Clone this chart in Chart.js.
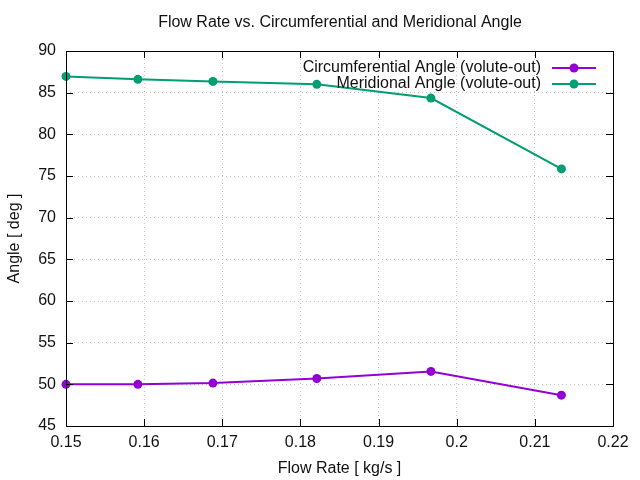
<!doctype html>
<html>
  <head>
    <meta charset="utf-8" />
    <title>Flow Rate vs. Angle</title>
    <script src="https://cdn.jsdelivr.net/npm/chart.js@4/dist/chart.umd.min.js"></script>
    <style>
      body { margin: 0; background: #fff; }
      #chart { display: block; }
    </style>
  </head>
  <body>
    <canvas id="chart" width="640" height="480"></canvas>
    <script>
      // values
      const flowRate = [0.15, 0.1592, 0.1688, 0.1821, 0.1967, 0.2134];
      const circAngle = [50.0, 50.0, 50.15, 50.7, 51.55, 48.7];
      const meridAngle = [86.95, 86.6, 86.35, 86.0, 84.35, 75.85];
      const seriesNames = ["Circumferential Angle (volute-out)", "Meridional Angle (volute-out)"];
      const seriesColors = ["#9400d3", "#009e73"];

      Chart.defaults.font.family = "Liberation Sans";
      Chart.defaults.font.size = 16;
      Chart.defaults.color = "#111";

      function puntos(ys) {
        return flowRate.map((x, i) => ({ x: x, y: ys[i] }));
      }

      // gnuplot style: title, inward ticks on all four sides, legend with sample on the right
      const extras = {
        id: "extras",
        afterDraw(chart) {
          const ctx = chart.ctx;
          const a = chart.chartArea;
          const sx = chart.scales.x, sy = chart.scales.y;
          ctx.save();
          ctx.strokeStyle = "#000";
          ctx.lineWidth = 1;
          ctx.beginPath();
          sx.ticks.forEach((t) => {
            const px = Math.round(sx.getPixelForValue(t.value)) + 0.5;
            ctx.moveTo(px, a.bottom); ctx.lineTo(px, a.bottom - 7);
            ctx.moveTo(px, a.top); ctx.lineTo(px, a.top + 7);
          });
          sy.ticks.forEach((t) => {
            const py = Math.round(sy.getPixelForValue(t.value)) + 0.5;
            ctx.moveTo(a.left, py); ctx.lineTo(a.left + 7, py);
            ctx.moveTo(a.right, py); ctx.lineTo(a.right - 7, py);
          });
          ctx.stroke();
          ctx.strokeRect(a.left + 0.5, a.top + 0.5, a.right - a.left, a.bottom - a.top);

          ctx.fillStyle = "#111";
          ctx.font = "16px 'Liberation Sans'";
          ctx.textAlign = "center";
          ctx.textBaseline = "middle";
          ctx.fillText("Flow Rate vs. Circumferential and Meridional Angle", 340, 23);

          ctx.textAlign = "right";
          chart.data.datasets.forEach((ds, i) => {
            const y = 68 + i * 16;
            ctx.fillStyle = "#111";
            ctx.fillText(ds.label, 541, y);
            ctx.strokeStyle = ds.borderColor;
            ctx.lineWidth = 2;
            ctx.beginPath();
            ctx.moveTo(552, y); ctx.lineTo(596, y);
            ctx.stroke();
            ctx.fillStyle = ds.borderColor;
            ctx.beginPath();
            ctx.arc(574, y, 4.5, 0, Math.PI * 2);
            ctx.fill();
          });
          ctx.restore();
        },
      };

      const canvas = document.getElementById("chart");
      const grafico = new Chart(canvas, {
        type: "line",
        data: {
          datasets: [
            {
              label: seriesNames[0],
              data: puntos(circAngle),
              borderColor: seriesColors[0],
              backgroundColor: seriesColors[0],
              borderWidth: 2,
              pointRadius: 4.5,
              pointBorderWidth: 0,
              clip: false,
            },
            {
              label: seriesNames[1],
              data: puntos(meridAngle),
              borderColor: seriesColors[1],
              backgroundColor: seriesColors[1],
              borderWidth: 2,
              pointRadius: 4.5,
              pointBorderWidth: 0,
              clip: false,
            },
          ],
        },
        options: {
          responsive: false,
          animation: false,
          layout: { padding: { left: 0, right: 27, top: 51, bottom: 0 } },
          plugins: { legend: { display: false }, tooltip: { enabled: false } },
          scales: {
            x: {
              type: "linear",
              min: 0.15,
              max: 0.22,
              afterFit: (s) => { s.height = 54; },
              ticks: { stepSize: 0.01, padding: 7, callback: (v) => String(+v.toFixed(2)) },
              grid: { color: "#c4c4c4", drawTicks: false },
              border: { display: false, dash: [1, 3] },
              title: { display: true, text: "Flow Rate [ kg/s ]", padding: { top: 0, bottom: 2 } },
            },
            y: {
              min: 45,
              max: 90,
              afterFit: (s) => { s.width = 66; },
              ticks: { stepSize: 5, padding: 10 },
              grid: { color: "#c4c4c4", drawTicks: false },
              border: { display: false, dash: [1, 3] },
              title: { display: true, text: "Angle [ deg ]", padding: { top: 5, bottom: 0 } },
            },
          },
        },
        plugins: [extras],
      });
    </script>
  </body>
</html>
